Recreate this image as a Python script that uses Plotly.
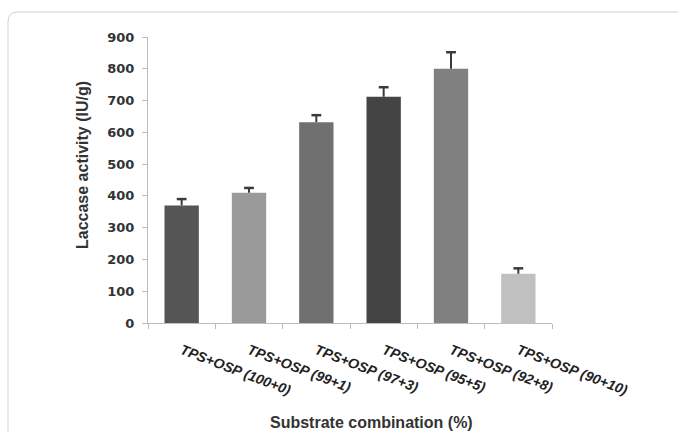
import plotly.graph_objects as go

categories = ["TPS+OSP (100+0)", "TPS+OSP (99+1)", "TPS+OSP (97+3)",
              "TPS+OSP (95+5)", "TPS+OSP (92+8)", "TPS+OSP (90+10)"]
values = [370, 410, 632, 712, 800, 155]
errors = [20, 15, 22, 30, 52, 17]
bar_colors = ["#555555", "#9a9a9a", "#707070", "#444444", "#808080", "#c0c0c0"]
y_ticks = [0, 100, 200, 300, 400, 500, 600, 700, 800, 900]

fig = go.Figure()
fig.add_trace(go.Bar(
    x=categories, y=values,
    marker=dict(color=bar_colors, line=dict(width=0)),
    width=0.51,
))

# one-sided (upper) error bars: stem + cap, built from the data
stem_x, stem_y = [], []
for c, v, e in zip(categories, values, errors):
    stem_x += [c, c, None]
    stem_y += [v, v + e, None]
fig.add_trace(go.Scatter(x=stem_x, y=stem_y, mode="lines",
                         line=dict(color="#3a3a3a", width=2),
                         hoverinfo="skip"))
fig.add_trace(go.Scatter(x=categories, y=[v + e for v, e in zip(values, errors)],
                         mode="markers",
                         marker=dict(symbol="line-ew", size=7,
                                     line=dict(color="#3a3a3a", width=2.5)),
                         hoverinfo="skip"))

L, R, T, B = 148, 126, 37, 109
W, H = 678, 432
pw, ph = W - L - R, H - T - B

def px2paper(x, y):
    return (x - L) / pw, (H - B - y) / ph

x0, y0 = px2paper(8, 12)
x1, _ = px2paper(700, 12)
_, yb = px2paper(8, 460)
rx, ry = 10 / pw, 10 / ph
path = (f"M {x0},{yb} L {x0},{y0 - ry} Q {x0},{y0} {x0 + rx},{y0} "
        f"L {x1},{y0}")

fig.update_layout(
    width=W, height=H,
    margin=dict(l=L, r=R, t=T, b=B),
    paper_bgcolor="white", plot_bgcolor="white",
    showlegend=False,
    font=dict(family="Liberation Sans, Arial, sans-serif", color="#333333"),
    xaxis=dict(
        range=[-0.5, 5.5],
        showline=True, linecolor="#bdbdbd", linewidth=1,
        ticks="outside", tickson="boundaries", ticklen=5, tickcolor="#bdbdbd",
        tickangle=21,
        tickfont=dict(size=14, family="Liberation Sans, Arial, sans-serif",
                      color="#222222", weight="bold", style="italic"),
        ticklabelstandoff=13,
        showgrid=False, zeroline=False,
    ),
    yaxis=dict(
        range=[0, 900], tickvals=y_ticks,
        showline=True, linecolor="#bdbdbd", linewidth=1,
        ticks="outside", ticklen=5, tickcolor="#bdbdbd",
        tickfont=dict(size=13, family="DejaVu Sans, sans-serif",
                      color="#333333", weight="bold"),
        ticklabelstandoff=5,
        showgrid=False, zeroline=False,
    ),
    shapes=[dict(type="path", path=path, xref="paper", yref="paper",
                 line=dict(color="#cfcfcf", width=1), layer="below")],
    annotations=[
        dict(text="Laccase activity (IU/g)", x=px2paper(82, 0)[0],
             y=px2paper(0, 165)[1], xref="paper", yref="paper",
             textangle=-90, showarrow=False,
             font=dict(size=16, color="#333333", weight="bold"),
             xanchor="center", yanchor="middle"),
        dict(text="Substrate combination (%)", x=px2paper(371, 0)[0],
             y=px2paper(0, 422)[1], xref="paper", yref="paper",
             showarrow=False,
             font=dict(size=16, color="#333333", weight="bold"),
             xanchor="center", yanchor="middle"),
    ],
)

fig.write_html("out.html", config={"displayModeBar": False},
               post_script="document.body.style.margin='0';")
